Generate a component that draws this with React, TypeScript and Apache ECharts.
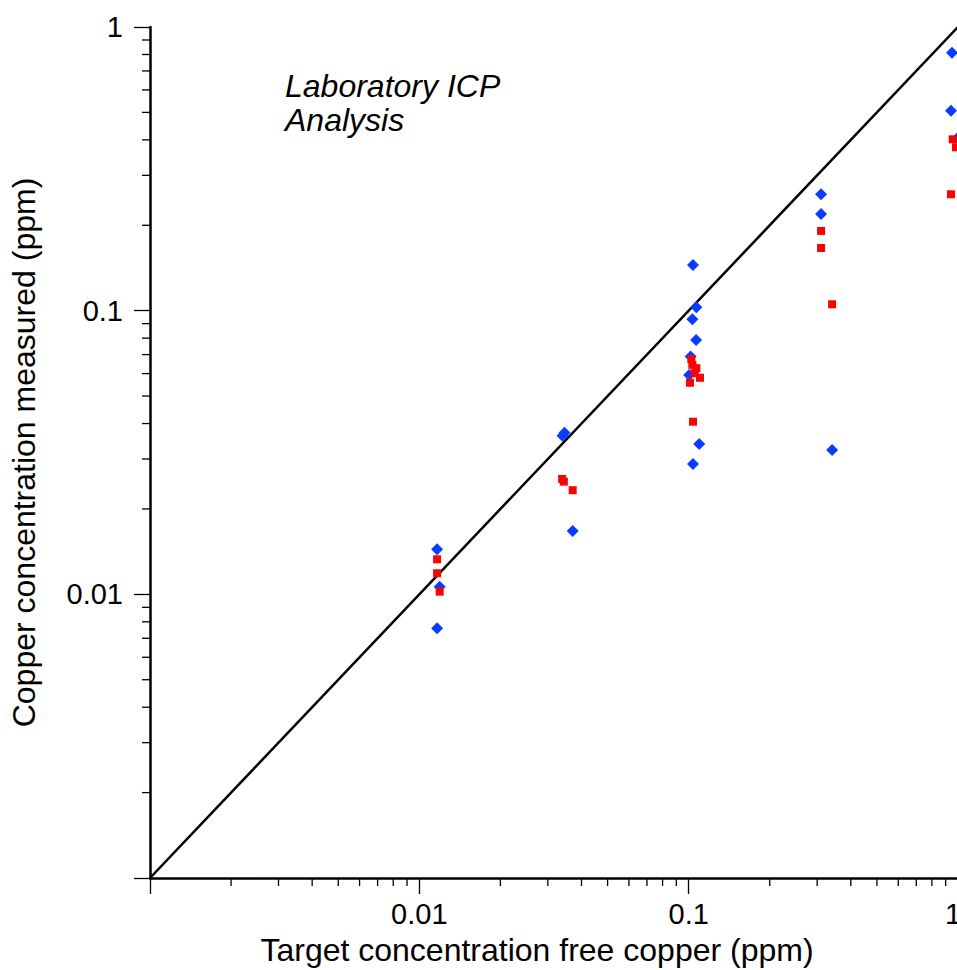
import React, { useEffect, useRef } from "react";
import * as echarts from "echarts";

// Blue diamonds (one series)
const blueX = [
  0.01164, 0.0119, 0.01164, 0.034, 0.0346, 0.0371,
  0.1038, 0.1068, 0.1032, 0.1066, 0.1017, 0.1004, 0.1094, 0.1038,
  0.3102, 0.3102, 0.3409, 0.95, 0.9417, 0.995,
];
const blueY = [
  0.01442, 0.01064, 0.0076, 0.0362, 0.0371, 0.01673,
  0.1449, 0.1028, 0.0932, 0.0788, 0.069, 0.0593, 0.0339, 0.0288,
  0.2572, 0.2193, 0.0323, 0.8116, 0.5069, 0.406,
];

// Red squares (other series)
const redX = [
  0.01164, 0.01164, 0.0119, 0.0339, 0.0344, 0.0371,
  0.1023, 0.1032, 0.1068, 0.1052, 0.1102, 0.1011, 0.1038,
  0.3102, 0.3102, 0.3409, 0.9557, 0.983, 0.9417,
];
const redY = [
  0.01329, 0.01187, 0.01022, 0.02551, 0.02496, 0.02328,
  0.0674, 0.0644, 0.0627, 0.0602, 0.058, 0.0557, 0.0406,
  0.191, 0.1663, 0.1053, 0.4019, 0.3767, 0.2572,
];

// 1:1 reference line
const lineX = [0.001, 1];
const lineY = [0.001, 1];

const axisMin = 0.001;
const axisMax = 1;
const tickLabels: Record<string, string> = { "0.01": "0.01", "0.1": "0.1", "1": "1" };
const minorTicks = [
  0.002, 0.003, 0.004, 0.005, 0.006, 0.007, 0.008, 0.009,
  0.02, 0.03, 0.04, 0.05, 0.06, 0.07, 0.08, 0.09,
  0.2, 0.3, 0.4, 0.5, 0.6, 0.7, 0.8, 0.9,
];

const xTitle = "Target concentration free copper (ppm)";
const yTitle = "Copper concentration measured (ppm)";
const note = "Laboratory ICP\nAnalysis";

const FONT = "'Liberation Sans', Arial, Helvetica, sans-serif";

export default function App() {
  const ref = useRef<HTMLDivElement>(null);

  useEffect(() => {
    if (!ref.current) return;
    const chart = echarts.init(ref.current, undefined, { renderer: "svg" });

    const fmt = (v: number) => {
      const key = String(Number(v.toPrecision(1)));
      return tickLabels[key] ?? "";
    };
    const fmtX = (v: number) => {
      const s = fmt(v);
      return s === "1" ? "{edge|1}" : s;
    };

    const axisCommon = {
      type: "log" as const,
      logBase: 10,
      min: axisMin,
      max: axisMax,
      axisLine: { show: true, lineStyle: { color: "#000", width: 2.5 } },
      axisTick: { show: true, inside: false, length: 16, lineStyle: { color: "#000", width: 1.3 } },
      splitLine: { show: false },
      minorTick: { show: false },
      nameLocation: "middle" as const,
    };

    const tickStyle = { stroke: "#000", lineWidth: 1.3 };

    chart.setOption({
      animation: false,
      backgroundColor: "#fff",
      grid: {
        left: 150,
        right: -1,
        top: 27,
        bottom: 92,
        containLabel: false,
        outerBoundsMode: "none",
      },
      xAxis: {
        ...axisCommon,
        name: xTitle,
        nameGap: 56,
        nameTextStyle: { fontFamily: FONT, fontSize: 32, color: "#000", padding: [0, 34, 0, 0] },
        axisLabel: {
          formatter: fmtX,
          margin: 21,
          fontFamily: FONT,
          fontSize: 29,
          color: "#000",
          rich: {
            edge: { fontFamily: FONT, fontSize: 29, color: "#000", padding: [0, 10, 0, 0] },
          },
        },
      },
      yAxis: {
        ...axisCommon,
        name: yTitle,
        nameGap: 110,
        nameTextStyle: { fontFamily: FONT, fontSize: 32, color: "#000" },
        axisLabel: { formatter: fmt, margin: 27, fontFamily: FONT, fontSize: 29, color: "#000" },
      },
      graphic: [
        {
          type: "text",
          left: 285,
          top: 69,
          style: {
            text: note,
            font: `italic 32px ${FONT}`,
            fill: "#000",
            lineHeight: 34,
          },
        },
      ],
      series: [
        {
          type: "line",
          data: lineX.map((x, i) => [x, lineY[i]]),
          symbol: "none",
          lineStyle: { color: "#000", width: 2.5 },
          z: 1,
          silent: true,
        },
        {
          type: "custom",
          data: minorTicks.map((v) => [v, axisMin]),
          clip: false,
          z: 1,
          silent: true,
          renderItem: (_p: any, api: any) => {
            const pt = api.coord([api.value(0), axisMin]);
            return {
              type: "line",
              shape: { x1: pt[0], y1: pt[1], x2: pt[0], y2: pt[1] + 8 },
              style: tickStyle,
            };
          },
        },
        {
          type: "custom",
          data: minorTicks.map((v) => [axisMin, v]),
          clip: false,
          z: 1,
          silent: true,
          renderItem: (_p: any, api: any) => {
            const pt = api.coord([axisMin, api.value(1)]);
            return {
              type: "line",
              shape: { x1: pt[0], y1: pt[1], x2: pt[0] - 8, y2: pt[1] },
              style: tickStyle,
            };
          },
        },
        {
          type: "scatter",
          name: "ICP blue",
          data: blueX.map((x, i) => [x, blueY[i]]),
          symbol: "diamond",
          symbolSize: 12,
          itemStyle: { color: "#0a3cff", opacity: 1 },
          z: 3,
        },
        {
          type: "scatter",
          name: "ICP red",
          data: redX.map((x, i) => [x, redY[i]]),
          symbol: "rect",
          symbolSize: 8,
          itemStyle: { color: "#ff0000", opacity: 1 },
          z: 4,
        },
      ],
    });

    return () => chart.dispose();
  }, []);

  return (
    <div
      ref={ref}
      style={{ position: "absolute", left: 0, top: 0, width: 957, height: 970 }}
    />
  );
}
